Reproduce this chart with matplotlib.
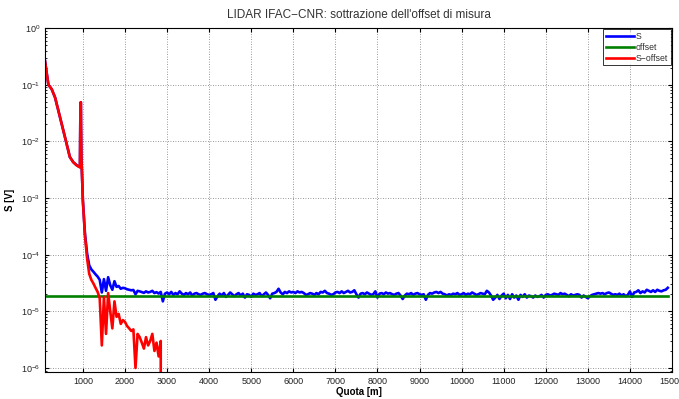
import numpy as np
import matplotlib
matplotlib.use("Agg")
import matplotlib.pyplot as plt
from matplotlib.ticker import LogLocator, NullFormatter, MultipleLocator

plt.rcParams['font.family'] = ['Liberation Sans', 'DejaVu Sans']

# ---- data (signal values in micro-volt) ----
near_quota = [100, 140, 180, 260, 340, 460, 575, 690, 770, 850, 900, 930, 940, 945, 950, 965, 980]
near_s = [260000, 160000, 100000, 83000, 59000, 26000, 11800, 5300, 4300, 3800, 3600, 3500,
          30000, 8000, 49000, 5000, 2500]

far_start, far_stop, far_step = 1000, 14900, 50
far_s = [
    # 1000 - 1950
    900, 230, 105, 65, 55, 50, 45, 41, 36, 21.5, 37, 23, 40, 29, 24, 34, 27, 28, 25, 26,
    # 2000 - 2950
    25.5, 24.5, 24, 23.5, 23.8, 20, 23, 22.5, 21.8, 21.2, 22.5, 21.5, 22, 23, 21, 21.8, 20.6, 22, 15, 20.5,
    # 3000 - 3950
    21.5, 20, 22, 19.5, 21, 20, 22.5, 20.5, 19.5, 21, 20, 21.5, 19, 20.5, 21, 20, 19.5, 20.5, 21, 20,
    # 4000 - 4950
    19.5, 20, 21, 16, 18.5, 20.5, 19, 21, 18, 19.5, 21.5, 20, 18.5, 20, 21, 19, 20.5, 17.5, 20, 19.5,
    # 5000 - 5950
    18, 20.5, 19.5, 20, 21, 18.5, 20, 21.5, 19.5, 17, 20.5, 21, 22, 25, 21.5, 20, 22, 21, 22.5, 21.5,
    # 6000 - 6950
    22, 21, 22.5, 21.5, 22, 21, 19.5, 20, 21, 20.5, 19.5, 21, 20, 22, 21.5, 23, 21, 20.5, 19.5, 20,
    # 7000 - 7950
    21.5, 22, 21, 22.5, 21, 22, 23, 21.5, 22, 23.5, 20, 17.5, 20.5, 21, 20, 21.5, 20.5, 19.5, 20, 22.5,
    # 8000 - 8950
    17.5, 20.5, 21, 20, 21.5, 20.5, 21, 20, 19.5, 20.5, 21, 19, 16.5, 19, 20.5, 20, 21, 19.5, 20.5, 21,
    # 9000 - 9950
    20, 19.5, 20, 16, 19.5, 21, 20.5, 21.5, 22, 21, 22, 20.5, 20, 19, 20, 19.5, 20.5, 20, 21, 19.5,
    # 10000 - 10950
    20, 21, 19.5, 20.5, 20, 21.5, 20.5, 19.5, 20, 21, 20.5, 20, 23, 21.5, 19, 16, 17.5, 19.5, 16.5, 19,
    # 11000 - 11950
    20.5, 17, 19.5, 16.5, 20, 17.5, 19, 16, 19.5, 18, 20, 17.5, 19, 18.5, 17.5, 19, 18, 18.5, 19.5, 17.5,
    # 12000 - 12950
    19.5, 20, 19, 19.5, 20.5, 20, 19.5, 21, 20, 20.5, 19.5, 18.5, 20, 19, 19.5, 20, 19.5, 17.5, 19, 18,
    # 13000 - 13950
    17, 18.5, 19.5, 20, 20.5, 21, 20.5, 21, 20, 21, 21.5, 20.5, 19.5, 20, 19.5, 20.5, 19, 20, 18.5, 19.5,
    # 14000 - 14900
    22.5, 18, 21.5, 22, 23.5, 21, 22.5, 21.5, 24, 23, 22, 23.5, 22, 24, 23, 22.5, 23.5, 24, 26,
]
offset_uv = 19.0
red_limit = 2900

quota = np.concatenate([np.array(near_quota, float),
                        np.arange(far_start, far_stop + 1, far_step, dtype=float)])
S = np.concatenate([np.array(near_s, float), np.array(far_s, float)]) * 1e-6
offset = np.full_like(S, offset_uv * 1e-6)
mask = quota <= red_limit
S_off = (S - offset)[mask]

# ---- figure ----
fig = plt.figure(figsize=(6.79, 3.99), dpi=100)
ax = fig.add_axes([0.0663, 0.0677, 0.9234, 0.8621])

ax.plot(quota, S, color=(0, 0, 1), lw=1.9, label='S')
ax.plot(quota, offset, color=(0, 0.5, 0), lw=1.9, label='offset')
ax.plot(quota[mask], S_off, color=(1, 0, 0), lw=1.9, label='S\u2212offset')

ax.set_yscale('log', nonpositive='clip')
ax.set_xlim(100, 15000)
ax.set_ylim(8.5e-7, 1.0)

ax.xaxis.set_major_locator(MultipleLocator(1000))
ax.yaxis.set_major_locator(LogLocator(base=10, numticks=10))
ax.yaxis.set_minor_locator(LogLocator(base=10, subs=np.arange(2, 10), numticks=20))
ax.yaxis.set_minor_formatter(NullFormatter())

ax.grid(True, which='major', linestyle=(0, (1, 2)), color='#777777', lw=0.6)
ax.tick_params(which='both', direction='in', top=True, right=True, labelsize=6.5,
               labelcolor='#222222')
ax.tick_params(which='major', length=3)
ax.tick_params(which='minor', length=1.5)
for sp in ax.spines.values():
    sp.set_linewidth(0.8)

ax.set_title("LIDAR IFAC\u2212CNR: sottrazione dell'offset di misura", fontsize=8.5, color='#333333', pad=7)
ax.set_xlabel('Quota [m]', fontsize=7, fontweight='bold', labelpad=1)
ax.set_ylabel('S [V]', fontsize=7, fontweight='bold', labelpad=4)

leg = ax.legend(loc='upper right', fontsize=6.3, handlelength=3.2, frameon=True, fancybox=False,
                borderpad=0.3, labelspacing=0.22, handletextpad=0.25, borderaxespad=0.15)
leg.get_frame().set_edgecolor('black')
leg.get_frame().set_linewidth(0.7)
for t in leg.get_texts():
    t.set_color('#333333')

fig.savefig('out.png', dpi=100)
